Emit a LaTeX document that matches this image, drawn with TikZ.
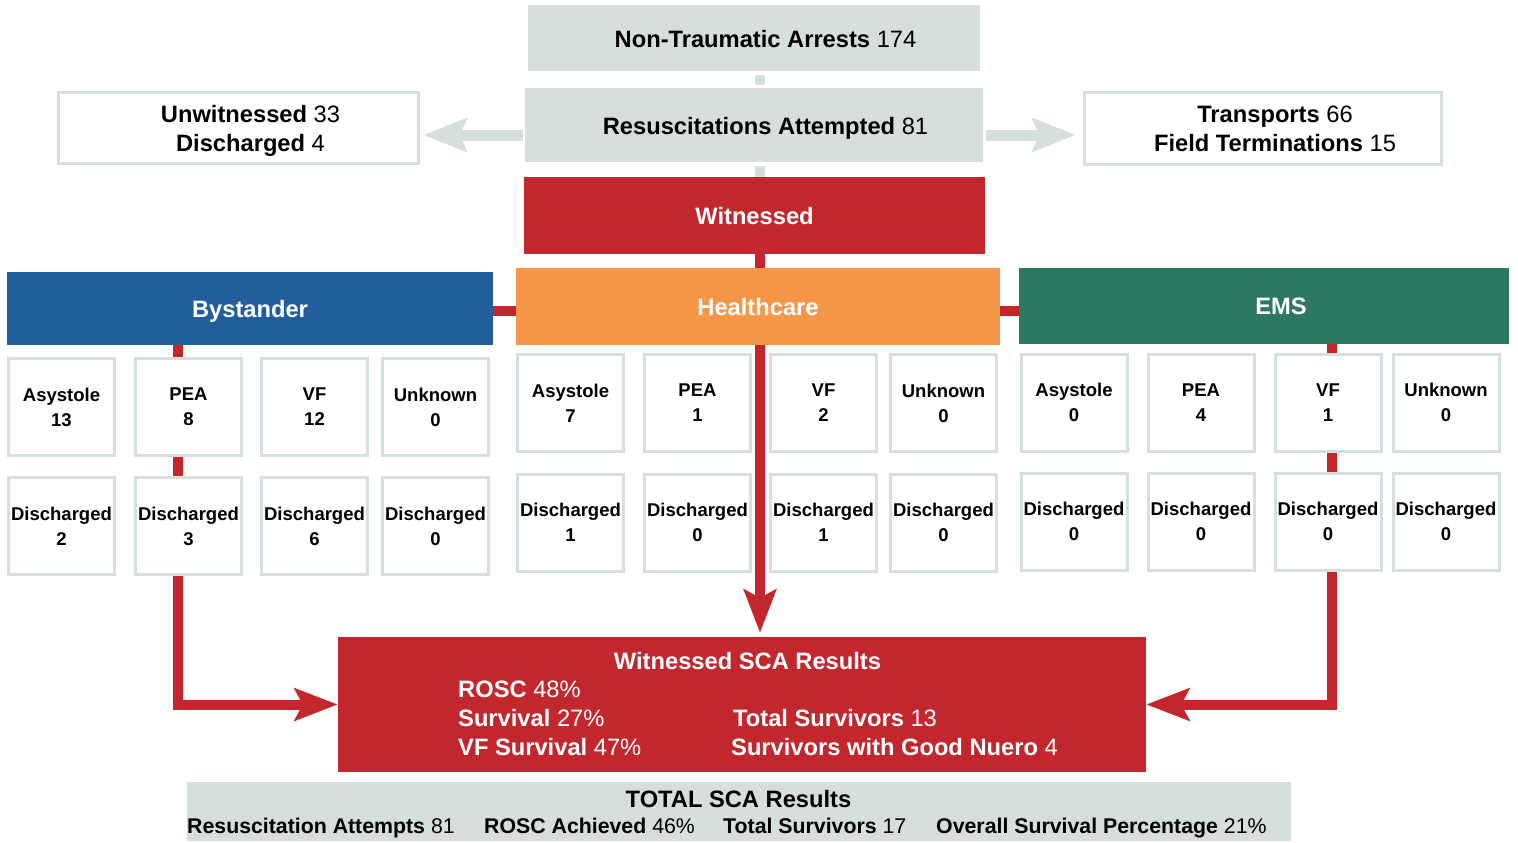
\documentclass[tikz,border=0pt]{standalone}
\usepackage{fontspec}
\setmainfont{Liberation Sans}
\usetikzlibrary{arrows.meta,backgrounds}

\definecolor{boxgrey}{HTML}{D5DFDC}
\definecolor{scared}{HTML}{C1272D}
\definecolor{byblue}{HTML}{225E9C}
\definecolor{hcorange}{HTML}{F69647}
\definecolor{emsgreen}{HTML}{2D7763}

\newcommand{\bigfont}{\fontsize{23.7}{29}\selectfont}
\newcommand{\cellfont}{\fontsize{18.5}{25}\selectfont}
\newcommand{\sumfont}{\fontsize{21.3}{28}\selectfont}

\tikzset{
  greybox/.style={fill=boxgrey, inner sep=0pt},
  sidebox/.style={draw=boxgrey, line width=3pt, fill=white, inner sep=0pt},
  groupbox/.style={inner sep=0pt, text=white, font=\bigfont\bfseries, text height=17pt, text depth=0pt},
  cell/.style={draw=boxgrey, line width=3pt, fill=white, minimum width=106pt, minimum height=97pt,
    align=center, font=\cellfont\bfseries, inner sep=0pt, text depth=0pt},
  bigtext/.style={font=\bigfont, align=center, inner sep=0pt},
  redline/.style={draw=scared, line width=10pt},
  greyline/.style={draw=boxgrey, line width=10pt},
  redtip/.style={-{Stealth[length=43pt,width=32pt,inset=8pt]}},
  greytip/.style={-{Stealth[length=43pt,width=33pt,inset=7pt]}},
}

\begin{document}
\begin{tikzpicture}[x=1pt, y=-1pt]
  \useasboundingbox (0,0) rectangle (1518,843);

  % axes of the connectors
  \coordinate (hcaxis) at (760,0);
  \coordinate (bturn) at (178,0);
  \coordinate (eturn) at (1332,0);
  \coordinate (sidey) at (0,135);
  \coordinate (linky) at (0,311);

  % top of the chart
  \node[greybox, minimum width=452pt, minimum height=66pt] (nta) at (754,38) {};
  \node[bigtext, anchor=base] (nta-text) at (765.5,48) {\textbf{Non-Traumatic Arrests} 174};
  \node[greybox, minimum width=458pt, minimum height=74pt] (resus) at (754,125) {};
  \node[bigtext, anchor=base] (resus-text) at (765.5,134.5) {\textbf{Resuscitations Attempted} 81};
  \node[groupbox, fill=scared, minimum width=461pt, minimum height=77pt] (witnessed) at (754.5,215.5) {Witnessed};

  \node[sidebox, minimum width=360pt, minimum height=71pt] (unw) at (238.5,128) {};
  \node[bigtext, text depth=0pt] (unw-text) at (250.5,128.5) {\textbf{Unwitnessed} 33\\\textbf{Discharged} 4};
  \node[sidebox, minimum width=357pt, minimum height=72pt] (trans) at (1263,128.5) {};
  \node[bigtext, text depth=0pt] (trans-text) at (1275,128.5) {\textbf{Transports} 66\\\textbf{Field Terminations} 15};

  \draw[greyline, shorten <=4pt, shorten >=3pt] (nta.south -| hcaxis) -- (resus.north -| hcaxis);
  \draw[greyline, shorten <=4pt] (resus.south -| hcaxis) -- (witnessed.north -| hcaxis);
  \draw[greyline, greytip, line width=11pt, shorten <=2pt, shorten >=3.5pt] (resus.west |- sidey) -- (unw.east |- sidey);
  \draw[greyline, greytip, line width=11pt, shorten <=3pt, shorten >=7.5pt] (resus.east |- sidey) -- (trans.west |- sidey);

  % who witnessed it
  \node[groupbox, fill=byblue, minimum width=486pt, minimum height=73pt] (bystander) at (250,308.5) {Bystander};
  \node[groupbox, fill=hcorange, minimum width=484pt, minimum height=77pt] (healthcare) at (758,306.5) {Healthcare};
  \node[groupbox, fill=emsgreen, minimum width=490pt, minimum height=76pt] (ems) at (1264,306) {};
  \node[groupbox] (ems-text) at (1281,306) {EMS};

  \foreach \i/\cx/\lab/\val/\dis in {1/61.5/Asystole/13/2, 2/188.5/PEA/8/3, 3/314.5/VF/12/6, 4/435.5/Unknown/0/0}{
    \node[cell] (by\i) at (\cx,407) {\lab\\\val};
    \node[cell] (byd\i) at (\cx,526) {Discharged\\\dis};
  }
  \foreach \i/\cx/\lab/\val/\dis in {1/570.5/Asystole/7/1, 2/697.5/PEA/1/0, 3/823.5/VF/2/1, 4/943.5/Unknown/0/0}{
    \node[cell] (hc\i) at (\cx,403) {\lab\\\val};
    \node[cell] (hcd\i) at (\cx,522.5) {Discharged\\\dis};
  }
  \foreach \i/\cx/\lab/\val/\dis in {1/1074/Asystole/0/0, 2/1201/PEA/4/0, 3/1328/VF/1/0, 4/1446/Unknown/0/0}{
    \node[cell] (em\i) at (\cx,402.5) {\lab\\\val};
    \node[cell] (emd\i) at (\cx,521.5) {Discharged\\\dis};
  }

  % witnessed results
  \node[fill=scared, inner sep=0pt, minimum width=808pt, minimum height=135pt] (sca) at (742,704.5) {};
  \begin{scope}[every node/.style={font=\bigfont, text=white, inner sep=0pt}]
    \node[anchor=base] (sca-title) at (747.5,669) {\textbf{Witnessed SCA Results}};
    \node[anchor=base west] (rosc) at (458,697) {\textbf{ROSC} 48\%};
    \node[anchor=base west] (surv) at (458,726) {\textbf{Survival} 27\%};
    \node[anchor=base west] (vfsurv) at (458,755) {\textbf{VF Survival} 47\%};
    \node[anchor=base west] (totsurv) at (733,726) {\textbf{Total Survivors} 13};
    \node[anchor=base west] (goodneuro) at (731,755) {\textbf{Survivors with Good Nuero} 4};
  \end{scope}

  % total results
  \node[greybox, minimum width=1104pt, minimum height=59pt] (total) at (739,811.5) {};
  \node[bigtext, anchor=base] (total-title) at (738.5,807) {\textbf{TOTAL SCA Results}};
  \begin{scope}[every node/.style={font=\sumfont, inner sep=0pt, anchor=base west}]
    \node (attempts) at (187,833) {\textbf{Resuscitation Attempts} 81};
    \node (rosc-all) at (484,833) {\textbf{ROSC Achieved} 46\%};
    \node (surv-all) at (723,833) {\textbf{Total Survivors} 17};
    \node (pct-all) at (936,833) {\textbf{Overall Survival Percentage} 21\%};
  \end{scope}

  % red connectors behind the boxes
  \begin{scope}[on background layer]
    \draw[redline] (bystander |- linky) -- (ems |- linky);
    \draw[redline, redtip, shorten >=4pt] (witnessed -| hcaxis) -- (sca.north -| hcaxis);
    \draw[redline, redtip] (bystander -| bturn) |- (sca.west);
    \draw[redline, redtip] (ems -| eturn) |- (sca.east);
  \end{scope}
\end{tikzpicture}
\end{document}
